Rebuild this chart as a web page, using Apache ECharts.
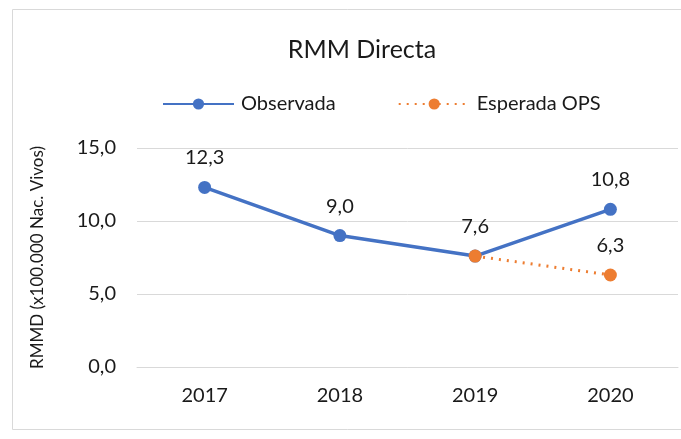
<!DOCTYPE html>
<html>
<head>
<meta charset="utf-8">
<script src="https://cdn.jsdelivr.net/npm/echarts@6/dist/echarts.min.js"></script>
<style>
    body{ margin:0; background:#fff; }
    #chart{ width:681px; height:439px; }
</style>
</head>
<body>
<div id="chart"></div>
<script>
    let years = ['2017', '2018', '2019', '2020'];
    let observada = [12.3, 9.0, 7.6, 10.8];
    let esperada = [null, null, 7.6, 6.3];
    let y_ticks = [0, 5, 10, 15];

    let font = 'Lato, "Open Sans", sans-serif';

    function fmt(v){
        return v.toFixed(1).replace('.', ',');
    }

    let options = {
        animation: false,
        textStyle: { fontFamily: font },
        title: {
            text: 'RMM Directa',
            left: 357,
            textAlign: 'center',
            top: 32,
            textStyle: { fontFamily: font, fontSize: 25, fontWeight: 'normal', color: '#1a1a1a' }
        },
        legend: {
            top: 89,
            left: 157,
            itemWidth: 71,
            itemHeight: 14,
            itemGap: 62,
            textStyle: { fontFamily: font, fontSize: 20, color: '#1a1a1a', padding: [0, 0, 0, 2] },
            data: ['Observada', 'Esperada OPS']
        },
        graphic: [{
            type: 'rect',
            shape: { x: 12.5, y: 9.5, width: 700, height: 420 },
            style: { fill: 'none', stroke: '#d9d9d9', lineWidth: 1 }
        }],
        grid: { left: 137, right: 3, top: 148, bottom: 72 },
        xAxis: {
            type: 'category',
            data: years,
            axisLine: { lineStyle: { color: '#d9d9d9', width: 1 } },
            axisTick: { show: false },
            axisLabel: { fontFamily: font, fontSize: 20, color: '#1a1a1a', margin: 19 }
        },
        yAxis: {
            type: 'value',
            min: y_ticks[0],
            max: y_ticks[y_ticks.length - 1],
            interval: 5,
            name: 'RMMD (x100.000 Nac. Vivos)',
            nameLocation: 'middle',
            nameGap: 91,
            nameTextStyle: { fontFamily: font, fontSize: 17, color: '#1a1a1a' },
            splitLine: { lineStyle: { color: '#d9d9d9', width: 1 } },
            axisLine: { show: false },
            axisTick: { show: false },
            axisLabel: { fontFamily: font, fontSize: 20, color: '#1a1a1a', margin: 21, formatter: fmt }
        },
        series: [
            {
                name: 'Observada',
                type: 'line',
                data: observada,
                color: '#4472C4',
                symbol: 'circle',
                symbolSize: 13,
                lineStyle: { width: 3.5 },
                label: {
                    show: true,
                    position: 'top',
                    distance: 13,
                    fontFamily: font,
                    fontSize: 20,
                    color: '#1a1a1a',
                    formatter: p => fmt(p.value)
                }
            },
            {
                name: 'Esperada OPS',
                type: 'line',
                data: esperada,
                color: '#ED7D31',
                symbol: 'circle',
                symbolSize: 13,
                lineStyle: { width: 3, type: [2, 6] },
                label: {
                    show: true,
                    position: 'top',
                    distance: 13,
                    fontFamily: font,
                    fontSize: 20,
                    color: '#1a1a1a',
                    formatter: p => p.dataIndex === 2 ? '' : fmt(p.value)
                }
            }
        ]
    };

    echarts.init(document.getElementById('chart')).setOption(options);
</script>
</body>
</html>
